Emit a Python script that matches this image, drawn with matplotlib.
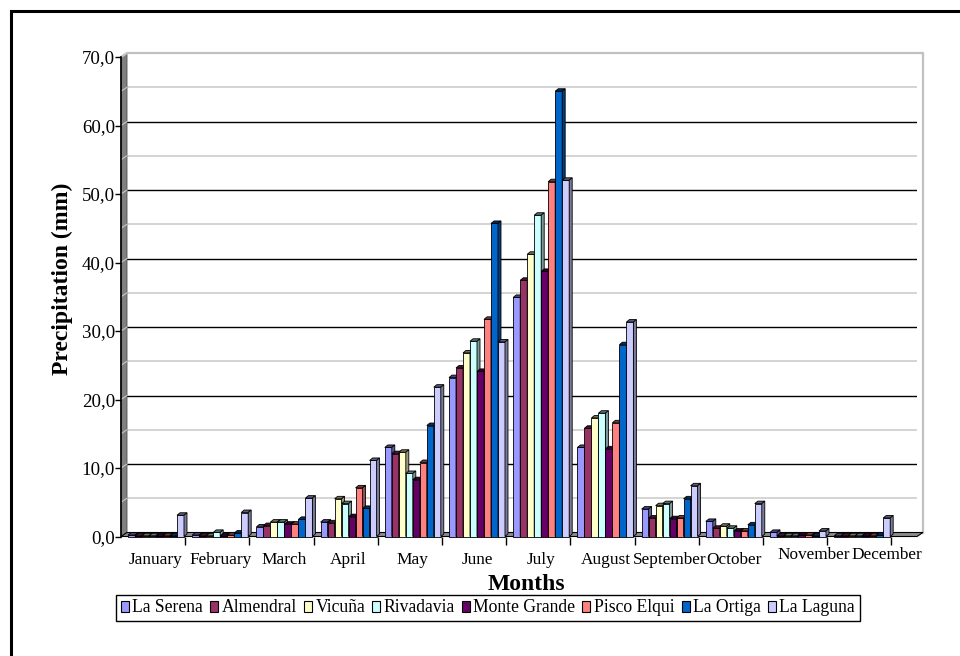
import numpy as np
import matplotlib
matplotlib.use("Agg")
import matplotlib.pyplot as plt
from matplotlib.patches import Polygon, Rectangle, Patch
from matplotlib.colors import to_rgb

plt.rcParams['font.family'] = ['Liberation Serif', 'DejaVu Serif']

months = ["January", "February", "March", "April", "May", "June", "July",
          "August", "September", "October", "November", "December"]
stations = ["La Serena", "Almendral", "Vicuña", "Rivadavia", "Monte Grande",
            "Pisco Elqui", "La Ortiga", "La Laguna"]
colors = ["#9999FF", "#993366", "#FFFFCC", "#CCFFFF", "#660066",
          "#FF8080", "#0066CC", "#CCCCFF"]

# monthly precipitation (mm)
la_serena = [0.2, 0.2, 1.4, 2.1, 13.0, 23.2, 34.9, 13.0, 4.0, 2.2, 0.6, 0.1]
almendral = [0.1, 0.1, 1.6, 2.0, 12.1, 24.6, 37.4, 15.8, 2.7, 1.2, 0.1, 0.1]
vicuna = [0.1, 0.1, 2.1, 5.5, 12.3, 26.8, 41.2, 17.3, 4.5, 1.5, 0.1, 0.1]
rivadavia = [0.1, 0.6, 2.1, 4.8, 9.2, 28.5, 46.9, 18.0, 4.8, 1.2, 0.1, 0.1]
monte_grande = [0.1, 0.1, 1.8, 2.9, 8.3, 24.1, 38.7, 12.8, 2.6, 0.8, 0.2, 0.1]
pisco_elqui = [0.1, 0.2, 1.8, 7.1, 10.8, 31.7, 51.8, 16.6, 2.7, 0.8, 0.2, 0.1]
la_ortiga = [0.1, 0.5, 2.5, 4.1, 16.2, 45.7, 65.0, 28.0, 5.5, 1.7, 0.1, 0.2]
la_laguna = [3.1, 3.5, 5.6, 11.1, 21.8, 28.4, 52.0, 31.3, 7.4, 4.8, 0.8, 2.7]
series = [la_serena, almendral, vicuna, rivadavia, monte_grande,
          pisco_elqui, la_ortiga, la_laguna]

yticks = np.arange(0, 71, 10)

W, H = 960, 656
fig = plt.figure(figsize=(W / 100, H / 100), dpi=100)

# front plane of the 3d box, in pixels
left, right, bottom, top = 121, 917, 536.5, 57
ax = fig.add_axes([left / W, 1 - bottom / H, (right - left) / W, (bottom - top) / H])
cat_w = 64.2
xmax = (right - left) / cat_w
ax.set_xlim(0, xmax)
ax.set_ylim(0, 70)
px_y = (bottom - top) / 70
dx, dy = 6 / cat_w, 4 / px_y        # wall depth
bdx, bdy = 3 / cat_w, 2.5 / px_y    # bar depth

for s in ["top", "right", "bottom"]:
    ax.spines[s].set_visible(False)
ax.spines["left"].set_linewidth(1.2)
ax.patch.set_visible(False)

# back wall, side wall, floor
ax.add_patch(Rectangle((dx, dy), xmax, 70, fc="white", ec="none", zorder=0))
for v in np.arange(5, 70, 5):
    major = v % 10 == 0
    ax.plot([dx, xmax + dx], [v + dy, v + dy], color="black" if major else "#d4d4d4",
            lw=1.0 if major else 1.4, zorder=1)
ax.add_patch(Polygon([(0, 0), (dx, dy), (dx, 70 + dy), (0, 70)],
                     fc="#808080", ec="#505050", lw=0.6, zorder=1, clip_on=False))
for v in np.arange(5, 75, 5):
    ax.plot([0, dx], [v, v + dy], color="#c8c8c8", lw=0.8, zorder=1.1, clip_on=False)
ax.plot([0, dx, xmax + dx, xmax + dx], [70, 70 + dy, 70 + dy, dy],
        color="#c0c0c0", lw=1.6, zorder=1, clip_on=False)
ax.add_patch(Polygon([(0, 0), (xmax, 0), (xmax + dx, dy), (dx, dy)],
                     fc="#8c8c8c", ec="black", lw=0.8, zorder=2, clip_on=False))


def shade(c, f):
    r, g, b = to_rgb(c)
    return (r * f, g * f, b * f)


# clustered 3d columns
first = (156 - left) / cat_w
bw = 0.109
for i, (vals, c) in enumerate(zip(series, colors)):
    xs = np.arange(len(months)) + first + (i - 3.5) * bw
    z = 3 + i
    ax.bar(xs, vals, width=bw, color=c, edgecolor="black", lw=0.6, zorder=z, clip_on=False)
    for x, v in zip(xs, vals):
        xl, xr = x - bw / 2, x + bw / 2
        ax.add_patch(Polygon([(xl, v), (xr, v), (xr + bdx, v + bdy), (xl + bdx, v + bdy)],
                             fc=shade(c, 0.45), ec="black", lw=0.6, zorder=z, clip_on=False))
        ax.add_patch(Polygon([(xr, 0), (xr + bdx, bdy), (xr + bdx, v + bdy), (xr, v)],
                             fc=shade(c, 0.6), ec="black", lw=0.6, zorder=z, clip_on=False))

ax.set_yticks(yticks)
ax.set_yticklabels([f"{v:.1f}".replace(".", ",") for v in yticks])
ax.tick_params(axis="y", direction="out", length=4.3, width=1, pad=0, labelsize=13.6)
ax.set_xticks(np.arange(1, 13))
ax.set_xticklabels([])
ax.tick_params(axis="x", direction="out", length=5.8, width=1, color="black")

label_nudge = {"November": (0.25, 5), "December": (0.38, 5)}
for k, m in enumerate(months):
    sx, sy = label_nudge.get(m, (0, 0))
    ax.annotate(m, (k + first + sx, 0), xytext=(0, -23.5 + sy), textcoords="offset pixels",
                ha="center", va="center", fontsize=12.4, annotation_clip=False)

fig.text(526 / W, 1 - 584 / H, "Months", ha="center", va="center",
         fontsize=17, fontweight="bold")
fig.text(62 / W, 1 - 279 / H, "Precipitation (mm)", ha="center", va="center",
         rotation=90, fontsize=17, fontweight="bold")

handles = [Patch(facecolor=c, edgecolor="black", lw=0.8) for c in colors]
leg = fig.legend(handles, stations, loc="center", bbox_to_anchor=(488 / W, 1 - 608 / H),
                 ncol=8, prop={"family": ["Liberation Serif", "DejaVu Serif"], "size": 12.7},
                 frameon=True, fancybox=False, framealpha=1,
                 handlelength=0.45, handleheight=0.55, handletextpad=0.2,
                 columnspacing=0.4, borderpad=0.25, borderaxespad=0)
leg.get_frame().set_edgecolor("black")
leg.get_frame().set_linewidth(1.0)

# outer chart border
fig.add_artist(Rectangle((11 / W, -0.1), 1.2, 1 - 11 / H + 0.1, transform=fig.transFigure,
                         fill=False, ec="black", lw=2.2))

fig.savefig("out.png", dpi=100)
